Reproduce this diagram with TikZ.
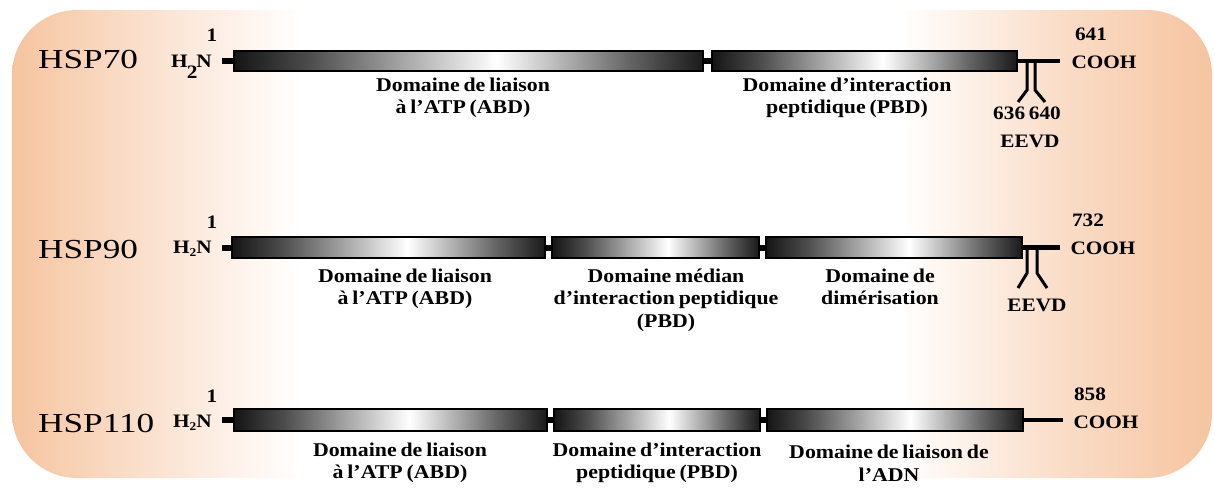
\documentclass[tikz,border=0pt]{standalone}
\usepackage{fontspec}
\setmainfont{Liberation Serif}[FakeStretch=1.12, WordSpace=0.7]
\newfontfamily\hspfont{Liberation Serif}[FakeStretch=1.28]
\definecolor{peach}{RGB}{246,196,160}
\pgfdeclarehorizontalshading{bgshade}{100bp}{color(0bp)=(peach); color(25bp)=(peach); color(29bp)=(peach!65); color(37bp)=(white); color(62bp)=(white); color(69bp)=(peach!60); color(75bp)=(peach); color(100bp)=(peach)}
\pgfdeclarehorizontalshading{barshade}{100bp}{color(0bp)=(black); color(25bp)=(black!92); color(33bp)=(black!70); color(53bp)=(white); color(67bp)=(black!60); color(75bp)=(black!90); color(100bp)=(black!90)}
\begin{document}
\begin{tikzpicture}[x=1pt,y=-1pt,
  dombox/.style={draw=black, line width=1.3pt, shading=barshade, inner sep=0pt, minimum height=20pt},
  link/.style={line width=6pt},
  tail/.style={line width=4.5pt},
  tick/.style={line width=3pt},
  hsp/.style={font=\hspfont\fontsize{27.5}{30}\selectfont, anchor=base west, inner sep=0pt},
  hn/.style={font=\bfseries\fontsize{19}{20}\selectfont, anchor=base east, inner sep=0pt},
  lbl/.style={font=\bfseries\fontsize{19.5}{22.5}\selectfont, align=center, inner sep=0pt},
  num/.style={font=\bfseries\fontsize{19}{20}\selectfont, inner sep=0pt}]
\useasboundingbox (0,0) rectangle (1215,488);
\shade[shading=bgshade, rounded corners=65pt] (12,10) rectangle (1212,478);

% ---------- HSP70 ----------
\node[hsp] (t1) at (38,68) {HSP70};
\node[hn] (h1) at (212,67) {H\kern-1pt\raisebox{-11pt}{2}\kern-1pt N};
\node[num] (n1) at (212,35) {1};
\node[dombox, minimum width=469pt] (a1) at (468.5,61) {};
\node[dombox, minimum width=305pt] (a2) at (864.5,61) {};
\coordinate (an) at (222,61);
\coordinate (ac) at (1060,61);
\draw[link] (an) -- (a1.west);
\draw[link] (a1.east) -- (a2.west);
\draw[tail] (a2.east) -- (ac);
\coordinate (ak1) at (1027,61); \coordinate (ak1b) at (1027,90); \coordinate (ak1c) at (1018,102);
\coordinate (ak2) at (1035,61); \coordinate (ak2b) at (1035,90); \coordinate (ak2c) at (1045,102);
\draw[tick] (ak1) -- (ak1b) -- (ak1c);
\draw[tick] (ak2) -- (ak2b) -- (ak2c);
\node[lbl] (l11) at (463,98) {Domaine de liaison\\à l’ATP (ABD)};
\node[lbl] (l12) at (847,98) {Domaine d’interaction\\peptidique (PBD)};
\node[num] (p1) at (1027,113) {636 640};
\node[num] (e1) at (1030,141) {EEVD};
\node[num] (m1) at (1091,34) {641};
\node[num] (c1) at (1104,62) {COOH};

% ---------- HSP90 ----------
\node[hsp] (t2) at (38,258) {HSP90};
\node[hn] (h2) at (212,253) {H\raisebox{-3pt}{\fontsize{12}{12}\selectfont 2}N};
\node[num] (n2) at (212,222) {1};
\node[dombox, minimum width=313pt, minimum height=21pt] (b1) at (388.5,247.5) {};
\node[dombox, minimum width=207pt, minimum height=21pt] (b2) at (655.5,247.5) {};
\node[dombox, minimum width=256pt, minimum height=21pt] (b3) at (894,247.5) {};
\coordinate (bn) at (222,247.5);
\coordinate (bc) at (1060,247.5);
\draw[link] (bn) -- (b1.west);
\draw[link] (b1.east) -- (b2.west);
\draw[link] (b2.east) -- (b3.west);
\draw[tail] (b3.east) -- (bc);
\coordinate (bk1) at (1027,247.5); \coordinate (bk1b) at (1027,273); \coordinate (bk1c) at (1018,288);
\coordinate (bk2) at (1037,247.5); \coordinate (bk2b) at (1037,273); \coordinate (bk2c) at (1047,288);
\draw[tick] (bk1) -- (bk1b) -- (bk1c);
\draw[tick] (bk2) -- (bk2b) -- (bk2c);
\node[lbl] (l21) at (405,289) {Domaine de liaison\\à l’ATP (ABD)};
\node[lbl] (l22) at (666,300) {Domaine médian\\d’interaction peptidique\\(PBD)};
\node[lbl] (l23) at (880,287) {Domaine de\\dimérisation};
\node[num] (e2) at (1037,305) {EEVD};
\node[num] (m2) at (1088,220) {732};
\node[num] (c2) at (1103,248) {COOH};

% ---------- HSP110 ----------
\node[hsp] (t3) at (38,432) {HSP110};
\node[hn] (h3) at (212,427) {H\raisebox{-3pt}{\fontsize{12}{12}\selectfont 2}N};
\node[num] (n3) at (212,396) {1};
\node[dombox, minimum width=313pt, minimum height=22pt] (c1b) at (390.5,420) {};
\node[dombox, minimum width=206pt, minimum height=22pt] (c2b) at (657,420) {};
\node[dombox, minimum width=256pt, minimum height=22pt] (c3b) at (895,420) {};
\coordinate (cn) at (222,420);
\coordinate (cc) at (1063,420);
\draw[link] (cn) -- (c1b.west);
\draw[link] (c1b.east) -- (c2b.west);
\draw[link] (c2b.east) -- (c3b.west);
\draw[tail] (c3b.east) -- (cc);
\node[lbl] (l31) at (400,463) {Domaine de liaison\\à l’ATP (ABD)};
\node[lbl] (l32) at (657,463) {Domaine d’interaction\\peptidique (PBD)};
\node[lbl] (l33) at (889,463) {Domaine de liaison de\\l’ADN};
\node[num] (m3) at (1090,394) {858};
\node[num] (c3) at (1106,422) {COOH};
\end{tikzpicture}
\end{document}
